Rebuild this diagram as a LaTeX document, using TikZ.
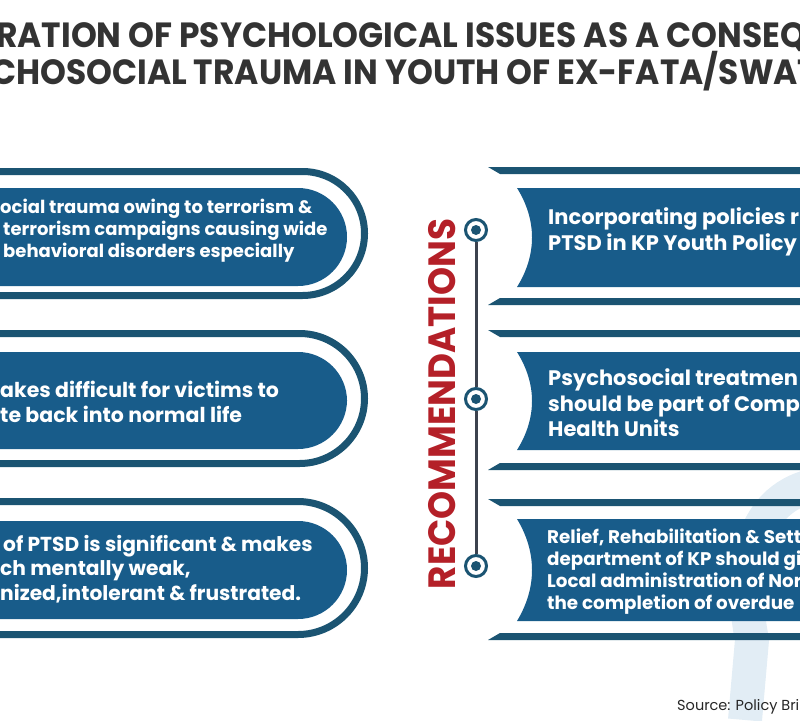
\documentclass[tikz,border=0pt]{standalone}
\usepackage{fontspec}
\setmainfont{Poppins}
\newfontfamily\condfont[FakeStretch=0.94]{Poppins}
\usepackage{xcolor}
\definecolor{azulCaixa}{RGB}{24,92,138}
\definecolor{azulAnel}{RGB}{27,84,114}
\definecolor{cinzaTitulo}{RGB}{51,51,51}
\definecolor{vermelhoRec}{RGB}{180,32,40}
\definecolor{cinzaLinha}{RGB}{60,66,78}
\definecolor{azulMarca}{RGB}{226,237,245}
\usetikzlibrary{positioning}
\tikzset{
  caixa/.style={fill=azulCaixa},
  anel/.style={draw=azulAnel, line width=7pt},
  barra/.style={fill=azulAnel},
  textoesq/.style={text=white, anchor=west, align=left, inner sep=0pt,
                   font=\bfseries\fontsize{18}{22}\selectfont},
  textodir/.style={text=white, anchor=west, align=left, inner sep=0pt,
                   font=\bfseries\fontsize{21}{25.5}\selectfont},
  titulo/.style={anchor=west, inner sep=0pt, text=cinzaTitulo,
                 font=\condfont\bfseries\fontsize{35}{35}\selectfont},
  marco/.style={circle, draw=azulAnel, line width=3pt, fill=white,
                minimum size=21pt, inner sep=0pt,
                path picture={\fill[azulAnel] (path picture bounding box.center) circle (5pt);}},
  linha/.style={draw=cinzaLinha, line width=3pt},
}

\begin{document}
\begin{tikzpicture}[x=1pt, y=-1pt]
  \useasboundingbox (0,0) rectangle (800,720);
  \clip (0,0) rectangle (800,720);

  % marca d'agua
  \draw[azulMarca, line width=34pt] (815,485) .. controls (745,500) and (740,580) .. (752,640) -- (745,720);

  % titulo
  \node[titulo] (tit1) at (-4,37) {RATION OF PSYCHOLOGICAL ISSUES AS A CONSEQ};
  \node[titulo] (tit2) at (-9,71) {CHOSOCIAL TRAUMA IN YOUTH OF EX-FATA/SWAT};

  % caixas da esquerda
  \draw[anel, rounded corners=62pt] (-40,171.5) -- (364.5,171.5) -- (364.5,295.5) -- (-40,295.5);
  \fill[caixa, rounded corners=49pt] (-60,188) -- (347,188) -- (347,286) -- (-60,286) -- cycle;
  \node[textoesq] (e1) at (0,230.5) {ocial trauma owing to terrorism \&\\
        \hspace*{3pt}terrorism campaigns causing wide\\
        \hspace*{3pt}behavioral disorders especially};

  \draw[anel, rounded corners=65pt] (-40,333.5) -- (364.5,333.5) -- (364.5,463.5) -- (-40,463.5);
  \fill[caixa, rounded corners=49pt] (-60,352) -- (347,352) -- (347,449) -- (-60,449) -- cycle;
  \node[textoesq, font=\bfseries\fontsize{20.5}{24.5}\selectfont] (e2) at (0,402)
        {akes difficult for victims to\\te back into normal life};

  \draw[anel, rounded corners=66.5pt] (-40,501.5) -- (364.5,501.5) -- (364.5,634.5) -- (-40,634.5);
  \fill[caixa, rounded corners=49pt] (-60,521) -- (347,521) -- (347,619) -- (-60,619) -- cycle;
  \node[textoesq, font=\bfseries\fontsize{20.2}{24.5}\selectfont] (e3) at (0,569)
        {\hspace*{3pt}of PTSD is significant \& makes\\
        ch mentally weak,\\
        nized,intolerant \& frustrated.};

  % caixas da direita
  \fill[barra] (488,167) -- (810,167) -- (810,174) -- (500,174) -- cycle;
  \fill[caixa] (517,188) -- (810,188) -- (810,287) -- (517,287) .. controls (537,255) and (537,220) .. (517,188) -- cycle;
  \fill[barra] (500,298) -- (810,298) -- (810,305) -- (488,305) -- cycle;
  \node[textodir] (d1) at (548,232) {Incorporating policies r\\PTSD in KP Youth Policy};

  \fill[barra] (488,330) -- (810,330) -- (810,337) -- (500,337) -- cycle;
  \fill[caixa] (517,352) -- (810,352) -- (810,450) -- (517,450) .. controls (537,418) and (537,384) .. (517,352) -- cycle;
  \fill[barra] (500,463) -- (810,463) -- (810,470) -- (488,470) -- cycle;
  \node[textodir] (d2) at (548,403) {Psychosocial treatmen\\should be part of Comp\\Health Units};

  \fill[barra] (488,499) -- (810,499) -- (810,506) -- (500,506) -- cycle;
  \fill[caixa] (517,519) -- (810,519) -- (810,621) -- (517,621) .. controls (537,588) and (537,552) .. (517,519) -- cycle;
  \fill[barra] (500,633) -- (810,633) -- (810,640) -- (488,640) -- cycle;
  \node[textodir, font=\bfseries\fontsize{18.3}{22}\selectfont] (d3) at (547,572)
        {Relief, Rehabilitation \& Sett\\department of KP should gi\\Local administration of Nor\\the completion of overdue};

  % linha do tempo
  \node[marco] (m1) at (476,230) {};
  \node[marco] (m2) at (476,399) {};
  \node[marco] (m3) at (476,566) {};
  \draw[linha] (m1.south) -- (m2.north);
  \draw[linha] (m2.south) -- (m3.north);
  \node[rotate=90, text=vermelhoRec, inner sep=0pt,
        font=\condfont\bfseries\fontsize{38}{38}\selectfont] (rec) at (442,404) {RECOMMENDATIONS};

  % fonte
  \node[anchor=west, inner sep=0pt, text=black!85, font=\fontsize{14.5}{14.5}\selectfont] (fonte) at (677,707)
        {Source: Policy Bri};
\end{tikzpicture}
\end{document}
